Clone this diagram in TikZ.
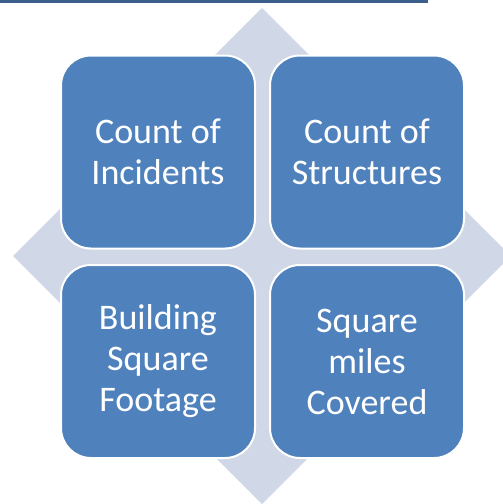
\documentclass[tikz,border=0pt]{standalone}
\usepackage{fontspec}
\setmainfont{Carlito}
\definecolor{boxblue}{HTML}{4F81BD}
\definecolor{diamondc}{HTML}{D0D8E8}
\definecolor{linec}{HTML}{3B5E8C}
\begin{document}
\begin{tikzpicture}[x=1pt,y=-1pt,
  card/.style={draw=white, line width=2pt, fill=boxblue, rounded corners=30pt,
    minimum width=194pt, minimum height=193pt, text=white, align=center,
    font=\fontsize{36}{41}\selectfont, inner sep=0pt}]
\useasboundingbox (0,0) rectangle (503,504);
\fill[white] (0,0) rectangle (503,504);
\draw[linec, line width=3pt] (0,1.5) -- (428,1.5);
\fill[diamondc] (262,8) -- (511,256) -- (262,504) -- (13,256) -- cycle;
\node[card] (a) at (158,152) {Count of\\Incidents};
\node[card] (b) at (367,152) {Count of\\Structures};
\node[card] (c) at (158,361.5) {Building\\Square\\Footage};
\node[card] (d) at (367,361.5) {Square\\miles\\Covered};
\end{tikzpicture}
\end{document}
